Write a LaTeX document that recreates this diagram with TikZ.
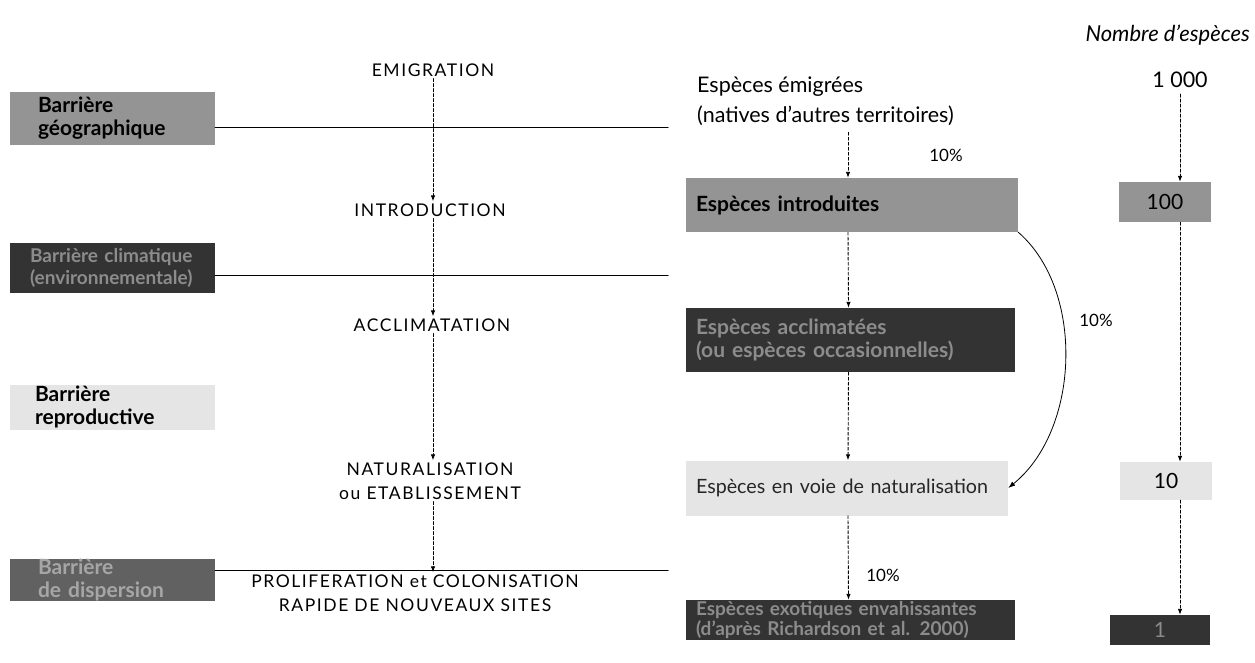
\documentclass[tikz,border=0pt]{standalone}
\usepackage{fontspec}
\setmainfont{Lato}
\newfontfamily\capsfont[LetterSpace=9]{Lato}
\usetikzlibrary{arrows.meta}

\begin{document}
\begin{tikzpicture}[x=1pt, y=-1pt, line cap=round,
    txt/.style={font=\fontsize{21.5}{30}\selectfont, inner sep=0pt},
    stage/.style={font=\capsfont\fontsize{17.5}{24}\selectfont, align=center, inner sep=2pt},
    boxtxt/.style={font=\bfseries\fontsize{21}{23}\selectfont, align=left, inner sep=0pt},
    barbox/.style={boxtxt, minimum width=205, minimum height=#1, text width=177,
        execute at begin node={\leftskip=14pt\relax}},
    spbox/.style={boxtxt, minimum height=#1, inner xsep=10pt},
    nbbox/.style={font=\fontsize{21}{23}\selectfont, minimum width=92, minimum height=#1, inner sep=0pt},
    midgrey/.style={fill=black!42, text=black},
    darkgrey/.style={fill=black!80, text=black!45},
    lightgrey/.style={fill=black!10, text=black},
    flow/.style={densely dashed, line width=0.9pt, -{Latex[length=6pt, width=4.5pt]}},
    barline/.style={line width=1pt}]
    \useasboundingbox (0,0) rectangle (1255,662);

    % Titre de la colonne
    \node[txt, font=\itshape\fontsize{22}{26}\selectfont, anchor=east] (titre) at (1250,35) {Nombre d'espèces};

    % Etapes
    \node[stage] (emi)   at (433,70)  {EMIGRATION};
    \node[stage] (intro) at (430,210) {INTRODUCTION};
    \node[stage] (accl)  at (432,325) {ACCLIMATATION};
    \node[stage] (natu)  at (430,481) {NATURALISATION\\ou ETABLISSEMENT};
    \node[stage] (prol)  at (415,593) {PROLIFERATION et COLONISATION\\RAPIDE DE NOUVEAUX SITES};
    \foreach \a/\b in {emi/intro, intro/accl, accl/natu, natu/prol}
        \draw[flow] ([xshift=433pt]\a.south -| 0,0) -- ([xshift=433pt]\b.north -| 0,0);

    % Barrieres
    \node[barbox=53, midgrey]   (geo)  at (112.5,118.5) {Barrière\\géographique};
    \node[barbox=50, darkgrey, font=\bfseries\fontsize{19}{22}\selectfont,
        execute at begin node={\leftskip=6pt\relax}] (env) at (112.5,268) {Barrière climatique\\(environnementale)};
    \node[barbox=45, lightgrey, execute at begin node={\leftskip=11pt\relax}] (repr) at (112.5,407) {Barrière\\reproductive};
    \node[barbox=40, darkgrey, fill=black!62, text=black!35] (disp) at (112.5,580) {Barrière\\de dispersion};
    \coordinate (geoend)  at (668,127);
    \coordinate (envend)  at (668,275);
    \coordinate (dispend) at (668,570);
    \draw[barline] (geo.east |- geoend) -- (geoend);
    \draw[barline] (env.east |- envend) -- (envend);
    \draw[barline] (disp.east |- dispend) -- (dispend);

    % Categories d'especes
    \node[txt, align=left, anchor=north west] (emig) at (697,77) {Espèces émigrées\\(natives d'autres territoires)};
    \node[spbox=54, midgrey, minimum width=332, text width=312]  (sintro) at (852,205) {Espèces introduites\vphantom{p}\\[6pt]};
    \node[spbox=64, darkgrey, minimum width=329, text width=309] (sacc)   at (850.5,340) {Espèces acclimatées\\(ou espèces occasionnelles)};
    \node[spbox=55, lightgrey, minimum width=322, text width=302, font=\fontsize{19.7}{22}\selectfont, text=black!85] (svoie) at (847,488) {Espèces en voie de naturalisation};
    \node[spbox=40, darkgrey, minimum width=329, text width=309, font=\bfseries\fontsize{19}{20}\selectfont] (senv) at (850.5,620) {Espèces exotiques envahissantes\\(d'après Richardson et al. 2000)};

    \draw[flow] (emig.south -| sintro.north) ++(-4,6) -- ([xshift=-4pt]sintro.north);
    \draw[flow] ([xshift=-4pt]sintro.south) -- ([xshift=-2pt]sacc.north);
    \draw[flow] ([xshift=-2pt]sacc.south) -- ([xshift=1pt]svoie.north);
    \draw[flow] ([xshift=1pt]svoie.south) -- ([xshift=-2pt]senv.north);
    \draw[line width=0.8pt, -{Latex[length=7pt, width=5pt]}] (sintro.south east)
        .. controls (1085,290) and (1080,430) .. (svoie.east);

    \node[txt, font=\fontsize{17}{19}\selectfont] (p1) at (946,155) {10\%};
    \node[txt, font=\fontsize{17}{19}\selectfont] (p2) at (1096,320) {10\%};
    \node[txt, font=\fontsize{17}{19}\selectfont] (p3) at (883,575) {10\%};

    % Nombre d'especes
    \node[txt] (n1000) at (1180,80) {1 000};
    \node[nbbox=40, midgrey]   (n100) at (1165,202) {100};
    \node[nbbox=38, lightgrey] (n10)  at (1166,481) {10};
    \node[nbbox=30, darkgrey, minimum width=100] (n1) at (1160,630) {1};
    \draw[flow] (n1000.south) ++(0,6) -- (n1000.south |- n100.north);
    \draw[flow] (n1000.south |- n100.south) -- (n1000.south |- n10.north);
    \draw[flow] (n1000.south |- n10.south) -- (n1000.south |- n1.north);
\end{tikzpicture}
\end{document}
